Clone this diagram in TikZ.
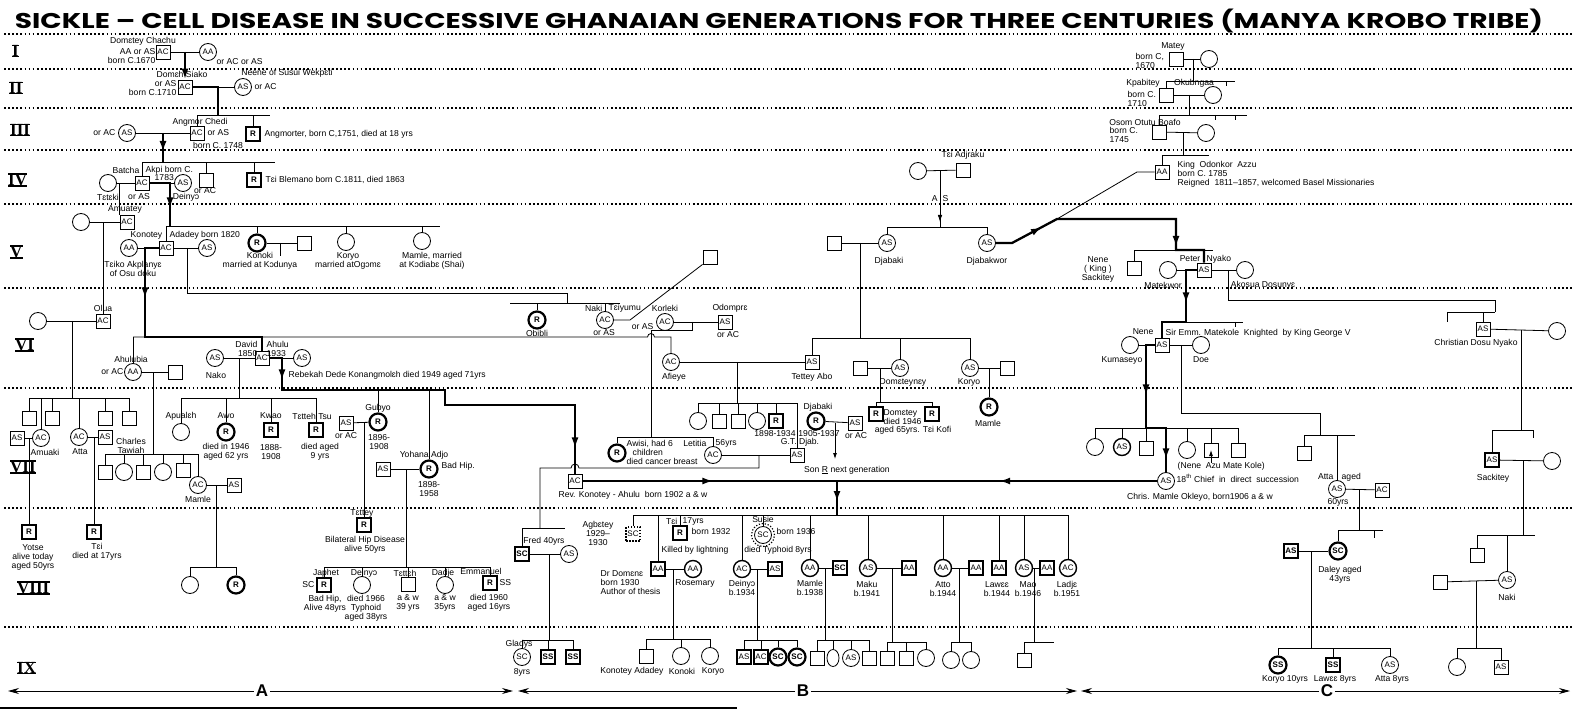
\documentclass[tikz,border=0pt]{standalone}
\usepackage{fontspec}
\setmainfont{Liberation Sans}
\newfontfamily\numfont{Liberation Serif}
\newfontfamily\titlefont{Poppins}
\usepackage{graphicx}
\usetikzlibrary{arrows.meta,calc,decorations.markings,positioning,shapes.geometric}

\newcommand{\lbl}{\fontsize{8.6}{9}\selectfont}
\newcommand{\sym}{\fontsize{8}{8}\selectfont}
\newcommand{\genfont}{\fontsize{17}{17}\selectfont\numfont\bfseries}

\tikzset{%
	male/.style     = {draw, rectangle, minimum size=14pt, inner sep=0pt, font=\sym, line width=0.8pt},
	female/.style   = {draw, circle, minimum size=17pt, inner sep=0pt, font=\sym, line width=0.8pt},
	aff/.style      = {line width=2.2pt, font=\sym\bfseries}, % affected
	heavy/.style    = {line width=1.4pt},
	agb/.style      = {dash pattern=on 1.5pt off 1.5pt, line width=1.3pt},
	lens/.style     = {draw, ellipse, minimum width=12pt, minimum height=17pt, inner sep=0pt, line width=0.8pt},
	txt/.style      = {inner sep=0.5pt, font=\lbl, align=center},
	gen/.style      = {inner sep=0pt, anchor=west, font=\genfont},
	genline/.style  = {line width=1.7pt, dash pattern=on 1.7pt off 2.4pt},
	link/.style     = {line width=0.8pt},
	lineage/.style  = {line width=2.3pt},
	arr/.style      = {postaction={decorate, decoration={markings, mark=at position #1 with {\arrow{Latex[length=11pt,width=7pt]}}}}},
	arrthin/.style  = {postaction={decorate, decoration={markings, mark=at position #1 with {\arrow{Latex[length=7pt,width=4.5pt]}}}}},
	smallarrow/.style = {-{Latex[length=6pt,width=4pt]}},
	secarrow/.style = {-{Stealth[length=11pt,width=6pt]}},
	sec/.style      = {inner sep=1.5pt, font=\fontsize{17}{17}\selectfont\bfseries},
}

\begin{document}
\begin{tikzpicture}[x=1pt,y=-1pt]
	\useasboundingbox (0,0) rectangle (1572,711);

	% generation rules and title
	\foreach \y in {34,69,108,150,204,288,388,508,627}
		\draw[genline] (4,\y) -- (1572,\y);
	\node[anchor=base, inner sep=0pt] (ttl) at (779,29) {\resizebox{1528pt}{19.5pt}{\titlefont\bfseries SICKLE – CELL DISEASE IN SUCCESSIVE GHANAIAN GENERATIONS FOR THREE CENTURIES (MANYA KROBO TRIBE)}};

	\node[gen] (gI) at (12,51) {I};
	\node[gen] (gII) at (9,88) {II};
	\node[gen] (gIII) at (10,130) {III};
	\node[gen] (gIV) at (8,180) {IV};
	\node[gen] (gV) at (10,252) {V};
	\node[gen] (gVI) at (15,345) {VI};
	\node[gen] (gVII) at (10,467) {VII};
	\node[gen] (gVIII) at (17,588) {VIII};
	\node[gen] (gIX) at (17,668) {IX};
	\foreach \g in {gI,gII,gIII,gIV,gV,gVI,gVII,gVIII,gIX}
		\draw[line width=1.3pt] (\g.north west) -- (\g.north east) (\g.south west) -- (\g.south east);

	% ===== A : generations I - V
	\node[male] (chachu) at (163,52) {AC};
	\node[female] (chachuW) at (208,52) {AA};
	\node[txt] (lChachu) at (143,41) {Domɛtey Chachu};
	\node[txt, anchor=east, align=right] (lChachu2) at (156,56) {AA or AS\\born C.1670};
	\node[txt, anchor=west] (lChachuW) at (216,62) {or AC or AS};
	\coordinate (mI) at (185,52);

	\node[male] (siako) at (185,87) {AC};
	\node[female] (neene) at (243,87) {AS};
	\node[txt] (lSiako) at (182,74) {Domɛh Siako};
	\node[txt, anchor=east, align=right] (lSiako2) at (177,88) {or AS\\born C.1710};
	\node[txt] (lNeene) at (287,73) {Neene of Susui Wekpɛti};
	\node[txt, anchor=west] (lNeene2) at (254,87) {or AC};
	\coordinate (mII) at (218,87);
	\coordinate (sIII) at (218,115);
	\coordinate (sIIIr) at (270,115);

	\node[male] (angmor) at (197,133) {AC};
	\node[female] (angmorW) at (127,133) {AS};
	\node[male, aff] (angmorter) at (253,134) {R};
	\node[txt] (lAngmor) at (200,122) {Angmor Chedi};
	\node[txt, anchor=west] (lAngmor2) at (207,133) {or AS};
	\node[txt] (lAngmor3) at (218,145) {born C. 1748};
	\node[txt, anchor=east] (lAngmorW) at (116,133) {or AC};
	\node[txt, anchor=west] (lAngmorter) at (264,134) {Angmorter, born C,1751, died at 18 yrs};
	\coordinate (mIII) at (163,133);
	\coordinate (sIV) at (163,162);
	\coordinate (sIVr) at (275,162);

	\node[male] (akpi) at (142,183) {AC};
	\node[female] (teteki) at (108,183) {};
	\node[female] (deinyo) at (183,183) {AS};
	\node[male] (orAC) at (206,180) {};
	\node[male, aff] (blemano) at (254,180) {R};
	\node[txt, anchor=east] (lBatcha) at (140,170) {Batcha};
	\node[txt, anchor=west] (lAkpi) at (145,170) {Akpi born C.};
	\node[txt, anchor=west] (lAkpi2) at (154,178) {1783};
	\node[txt] (lTeteki) at (108,197) {Tɛtɛki};
	\node[txt] (lAkpi3) at (139,197) {or AS};
	\node[txt] (lDeinyo) at (186,197) {Deinyɔ};
	\node[txt] (lOrAC) at (205,191) {or AC};
	\node[txt, anchor=west] (lBlemano) at (265,180) {Tɛi Blemano born C.1811, died 1863};
	\coordinate (mIVa) at (170,183);
	\coordinate (sV) at (170,226);
	\coordinate (sVr) at (440,226);

	\node[female] (amuateyW) at (81,222) {};
	\node[male] (amuatey) at (127,222) {AC};
	\node[txt] (lAmuatey) at (125,209) {Amuatey};
	\node[male] (konotey) at (166,248) {AC};
	\node[female] (tseiko) at (129,248) {AA};
	\node[female] (konoteyW) at (207,248) {AS};
	\node[txt, anchor=east] (lKonotey) at (163,235) {Konotey};
	\node[txt, anchor=west] (lKonotey2) at (169,235) {Adadey born 1820};
	\node[txt] (lTseiko) at (133,269) {Tɛiko Akplanyɛ\\of Osu doku};
	\node[female, aff] (konoki) at (257,243) {R};
	\node[male] (konokiH) at (304,243) {};
	\node[txt] (lKonoki) at (260,261) {Konoki\\married at Kɔdunya};
	\node[female] (koryoV) at (346,242) {};
	\node[txt] (lKoryoV) at (348,261) {Koryo\\married atOgɔmɛ};
	\node[female] (mamleV) at (422,241) {};
	\node[txt] (lMamleV) at (432,261) {Mamle, married\\at Kɔdiabɛ (Shai)};
	\coordinate (mV) at (145,248);
	\coordinate (mV2) at (187,248);
	\coordinate (kV2) at (567,293);
	\coordinate (sVIb) at (567,303);
	\coordinate (sVIbl) at (510,303);
	\coordinate (sVIbr) at (620,303);

	% ===== A : generations VI - VIII
	\node[female] (oluaW) at (38,321) {};
	\node[male] (olua) at (103,321) {AC};
	\node[txt] (lOlua) at (103,308) {Olua};
	\coordinate (mOlua) at (72,321);
	\coordinate (sVIIa) at (72,398);
	\node[female] (ahulubia) at (133,372) {AA};
	\node[male] (ahulubiaH) at (175,372) {};
	\node[txt] (lAhulubia) at (131,359) {Ahulubia};
	\node[txt, anchor=east] (lAhulubia2) at (124,372) {or AC};
	\coordinate (mAhb) at (153,372);
	\coordinate (sVIIb2) at (153,454);
	\node[male] (ahulu) at (262,358) {AC};
	\node[female] (nako) at (215,358) {AS};
	\node[female] (rebekah) at (302,358) {AS};
	\node[txt, anchor=east, align=right] (lDavid) at (258,349) {David\\1850};
	\node[txt, anchor=west, align=left] (lAhulu) at (266,349) {Ahulu\\1933};
	\node[txt] (lNako) at (216,375) {Nako};
	\node[txt, anchor=west] (lRebekah) at (288,375) {Rebekah Dede Konangmolɛh died 1949 aged 71yrs};
	\coordinate (sVI) at (145,337);
	\coordinate (mNako) at (239,358);
	\coordinate (sVIIn) at (239,398);
	\coordinate (kAh1) at (282,358);
	\coordinate (kAh2) at (282,390);
	\coordinate (kAh3) at (445,390);
	\coordinate (kAh4) at (445,405);
	\coordinate (kAh5) at (575,405);
	\coordinate (sVIIc) at (378,390);

	\node[male] (kA1) at (29,418) {};
	\node[female] (amuaki) at (41,438) {AC};
	\node[male] (kA2) at (52,418) {};
	\node[female] (atta7) at (79,437) {AC};
	\node[male] (kA3) at (105,418) {};
	\node[male] (kA4) at (129,418) {};
	\node[txt] (lAmuaki) at (45,452) {Amuaki};
	\node[txt] (lAtta7) at (80,452) {Atta};
	\node[male] (amuakiH) at (17,438) {AS};
	\node[male] (attaH7) at (105,437) {AS};
	\node[male, aff] (yotse) at (29,532) {R};
	\node[txt] (lYotse) at (33,557) {Yotse\\alive today\\aged 50yrs};
	\node[male, aff] (teiA) at (94,532) {R};
	\node[txt] (lTeiA) at (97,552) {Tɛi\\died at 17yrs};

	\node[male] (ah1) at (105,472) {};
	\node[female] (ah2) at (124,472) {};
	\node[male] (ah3) at (143,472) {};
	\node[female] (ah4) at (163,472) {};
	\node[male] (ah5) at (183,470) {};
	\node[female] (mamleA) at (198,485) {AC};
	\node[txt] (lCharles) at (131,446) {Charles\\Tawiah};
	\node[txt] (lMamleA) at (198,499) {Mamle};
	\node[male] (mamleAH) at (234,485) {AS};
	\coordinate (mMamleA) at (216,485);
	\coordinate (sVIIIa) at (216,567);
	\node[female] (ma1) at (190,585) {};
	\node[female, aff] (ma2) at (236,585) {R};

	\node[female] (apualeh) at (181,432) {};
	\node[female, aff] (awo) at (226,432) {R};
	\node[male, aff] (kwao) at (271,430) {R};
	\node[male, aff] (tsu) at (316,430) {R};
	\node[txt] (lApualeh) at (181,416) {Apualɛh};
	\node[txt] (lAwo) at (226,416) {Awo};
	\node[txt] (lAwo2) at (226,452) {died in 1946\\aged 62 yrs};
	\node[txt] (lKwao) at (271,416) {Kwao};
	\node[txt] (lKwao2) at (271,452) {1888-\\1908};
	\node[txt] (lTsu) at (312,416) {Tɛtteh Tsu};
	\node[txt] (lTsu2) at (320,452) {died aged\\9 yrs};

	\node[female, aff] (gubyo) at (378,422) {R};
	\node[txt] (lGubyo) at (378,408) {Gubyo};
	\node[txt] (lGubyo2) at (379,442) {1896-\\1908};
	\node[male] (gubyoH) at (346,423) {AS};
	\node[txt] (lGubyoH) at (346,436) {or AC};
	\node[male, aff] (tettey) at (364,525) {R};
	\node[txt] (lTettey) at (362,513) {Tɛttey};
	\node[txt] (lTettey2) at (365,545) {Bilateral Hip Disease\\alive 50yrs};

	\node[female, aff] (yohana) at (429,469) {R};
	\node[txt] (lYohana) at (424,455) {Yohana Adjo};
	\node[txt, anchor=west] (lYohana2) at (441,466) {Bad Hip.};
	\node[txt] (lYohana3) at (429,489) {1898-\\1958};
	\node[male] (yohanaH) at (383,469) {AS};
	\coordinate (mYoh) at (406,469);
	\coordinate (sVIIIy) at (406,567);

	\node[male, aff] (jaahet) at (324,585) {R};
	\node[female] (deinyoB) at (362,585) {};
	\node[male] (tetteh) at (408,584) {};
	\node[female] (dadje) at (445,585) {};
	\node[male, aff] (emmanuel) at (490,583) {R};
	\node[txt] (lJaahet) at (326,573) {Japhet};
	\node[txt, anchor=east] (lJaahet2) at (315,585) {SC};
	\node[txt] (lJaahet3) at (325,604) {Bad Hip,\\Alive 48yrs};
	\node[txt] (lDeinyoB) at (364,573) {Deinyɔ};
	\node[txt] (lDeinyoB2) at (366,608) {died 1966\\Typhoid\\aged 38yrs};
	\node[txt] (lTetteh) at (405,573) {Tɛttɛh};
	\node[txt] (lTetteh2) at (408,603) {a \& w\\39 yrs};
	\node[txt] (lDadje) at (443,573) {Dadje};
	\node[txt] (lDadje2) at (445,603) {a \& w\\35yrs};
	\node[txt] (lEmmanuel) at (481,571) {Emmanuel};
	\node[txt, anchor=west] (lEmmanuel2) at (499,583) {SS};
	\node[txt] (lEmmanuel3) at (489,603) {died 1960\\aged 16yrs};

	% ===== B : generations IV - VII
	\node[female, aff] (obibli) at (537,320) {R};
	\node[txt] (lObibli) at (537,333) {Obibli};
	\node[female] (naki) at (605,320) {AC};
	\node[txt, anchor=east] (lNaki) at (603,308) {Naki};
	\node[txt, anchor=west] (lNaki2) at (608,308) {Tɛiyumu};
	\node[txt] (lNaki3) at (604,333) {or AS};
	\node[male] (nakiH) at (710,257) {};
	\coordinate (kNaki) at (630,320);
	\node[female] (korleki) at (665,322) {AC};
	\node[txt] (lKorleki) at (665,308) {Korleki};
	\node[txt, anchor=east] (lKorleki2) at (654,327) {or AS};
	\node[male] (odompre) at (725,322) {AS};
	\node[txt] (lOdompre) at (730,308) {Odomprɛ};
	\node[txt] (lOdompre2) at (728,335) {or AC};
	\coordinate (mKor) at (692,322);
	\coordinate (kKor1) at (692,330);
	\coordinate (kKor2) at (651,330);
	\node[female] (afieye) at (671,362) {AC};
	\node[txt] (lAfieye) at (674,377) {Afieye};
	\node[male] (tetteyAbo) at (812,362) {AS};
	\node[txt] (lTetteyAbo) at (812,377) {Tettey Abo};
	\coordinate (mVI) at (737,362);
	\coordinate (sVIId) at (737,403);

	\node[female] (af1) at (698,421) {};
	\node[male] (af2) at (719,421) {};
	\node[male] (af3) at (738,421) {};
	\node[female] (af4) at (757,421) {};
	\node[male, aff] (af5) at (776,421) {R};
	\node[male] (gtdjab) at (797,455) {AS};
	\node[txt] (lAf5) at (775,434) {1898-1934};
	\node[txt] (lGtdjab) at (800,442) {G.T. Djab.};
	\node[female, aff] (djabakiR) at (816,421) {R};
	\node[txt] (lDjabakiR) at (818,407) {Djabaki};
	\node[txt] (lDjabakiR2) at (819,434) {1905-1937};
	\node[male] (djabakiH) at (855,423) {AS};
	\node[txt] (lDjabakiH) at (856,436) {or AC};
	\coordinate (mDj) at (835,423);
	\coordinate (son) at (835,459);
	\node[txt] (lSon) at (847,470) {Son \underline{R} next generation};

	\node[female] (adjraku) at (918,171) {};
	\node[male] (adjrakuH) at (963,170) {};
	\node[txt] (lAdjraku) at (963,155) {Tɛi Adjraku};
	\node[txt] (lAS) at (940,199) {A\hspace{5pt}S};
	\coordinate (mAdj) at (940,171);
	\coordinate (sVc) at (940,227);
	\node[male] (djabakiVH) at (834,243) {};
	\node[female] (djabakiV) at (887,243) {AS};
	\node[txt] (lDjabakiV) at (889,261) {Djabaki};
	\node[female] (djabakwor) at (987,243) {AS};
	\node[txt] (lDjabakwor) at (987,261) {Djabakwor};
	\coordinate (mDjV) at (860,243);
	\coordinate (sVIc) at (860,338);
	\node[female] (domteyneey) at (900,368) {AS};
	\node[txt] (lDomteyneey) at (903,382) {Domɛteynɛy};
	\node[male] (domH) at (860,368) {};
	\coordinate (mDom) at (880,368);
	\coordinate (sVIIe) at (880,402);
	\node[male, aff] (domtey) at (876,414) {R};
	\node[male, aff] (teiKofi) at (932,414) {R};
	\node[txt, anchor=west, align=left] (lDomtey) at (883,417) {Domɛtey\\died 1946};
	\node[txt] (lDomtey2) at (913,430) {aged 65yrs. Tɛi Kofi};
	\node[female] (koryoB) at (970,368) {AS};
	\node[txt] (lKoryoB) at (969,382) {Koryo};
	\node[male] (koryoBH) at (1007,368) {};
	\node[female, aff] (mamleR) at (989,407) {R};
	\node[txt] (lMamleR) at (988,423) {Mamle};
	\coordinate (mKoryo) at (989,368);

	\node[male] (revk) at (575,481) {AC};
	\node[txt] (lRevk) at (633,495) {Rev. Konotey - Ahulu\ \ born 1902 a \& w};
	\node[female, aff] (awisi) at (617,453) {R};
	\node[txt, anchor=west, align=left] (lAwisi) at (626,452) {Awisi, had 6\\\hspace{6pt}children\\died cancer breast};
	\node[female] (letitia) at (713,455) {AC};
	\node[txt, anchor=east] (lLetitia) at (707,443) {Letitia};
	\node[txt, anchor=west] (lLetitia2) at (715,443) {56yrs};
	\coordinate (sVIIl) at (651,437);
	\coordinate (mLet) at (759,455);
	\coordinate (kLet1) at (759,468);
	\coordinate (kLet2) at (579,468);
	\coordinate (kLet3) at (540,468);
	\coordinate (sVIIIc) at (540,528);
	\coordinate (sVIIIcr) at (565,528);
	\coordinate (mRev) at (837,481);
	\coordinate (sVIIIb) at (837,515);

	% ===== B : generations VIII - IX
	\node[male, aff] (fred) at (522,554) {SC};
	\node[txt] (lFred) at (544,541) {Fred 40yrs};
	\node[female] (fredW) at (569,554) {AS};
	\coordinate (mFred) at (549,554);
	\coordinate (sIXc) at (549,640);
	\node[female] (gladys) at (522,657) {SC};
	\node[male, aff] (ss1) at (548,657) {SS};
	\node[male, aff] (ss2) at (573,657) {SS};
	\node[txt] (lGladys) at (519,644) {Gladys};
	\node[txt] (lGladys2) at (522,672) {8yrs};

	\node[male, agb] (agbetey) at (633,534) {SC};
	\node[txt] (lAgbetey) at (598,533) {Agbɛtey\\1929–\\1930};
	\node[male, aff] (tei17) at (680,533) {R};
	\node[txt, anchor=east] (lTei17) at (678,521) {Tɛi};
	\node[txt, anchor=west] (lTei17b) at (682,521) {17yrs};
	\node[txt, anchor=west] (lTei17c) at (691,531) {born 1932};
	\node[txt] (lTei17d) at (695,550) {Killed by lightning};
	\node[male, heavy] (domene) at (658,569) {AA};
	\node[txt, anchor=west, align=left] (lDomene) at (600,583) {Dr Domɛnɛ\\born 1930\\Author of thesis};
	\node[female, heavy] (rosemary) at (693,569) {AA};
	\node[txt] (lRosemary) at (695,583) {Rosemary};
	\coordinate (mDom2) at (673,569);
	\coordinate (sIXd) at (673,639);
	\node[male] (dd1) at (646,656) {};
	\node[female] (dd2) at (681,656) {};
	\node[female] (dd3) at (710,656) {};
	\node[txt] (lDd1) at (632,671) {Konotey Adadey};
	\node[txt] (lDd2) at (682,671) {Konoki};
	\node[txt] (lDd3) at (713,671) {Koryo};

	\node[female, heavy] (deinyoC) at (742,569) {AC};
	\node[txt] (lDeinyoC) at (742,588) {Deinyɔ\\b.1934};
	\node[male, heavy] (deinyoCH) at (775,569) {AS};
	\coordinate (mDeiC) at (757,569);
	\coordinate (sIXe) at (757,640);
	\node[male, heavy] (de1) at (744,657) {AS};
	\node[male, heavy] (de2) at (761,657) {AC};
	\node[female, aff] (de3) at (778,657) {SC};
	\node[female, aff] (de4) at (797,657) {SC};
	\node[female] (susie) at (763,535) {SC};
	\draw[line width=1.2pt, dash pattern=on 1.2pt off 1.8pt] (susie.center) circle[radius=11.5pt];
	\node[txt] (lSusie) at (763,519) {Susie};
	\node[txt, anchor=west] (lSusie2) at (776,531) {born 1936};
	\node[txt] (lSusie3) at (778,550) {died Typhoid 8yrs};

	\node[female, heavy] (mamleB) at (810,568) {AA};
	\node[txt] (lMamleB) at (810,588) {Mamle\\b.1938};
	\node[male, aff] (mamleBH) at (840,568) {SC};
	\coordinate (mMamB) at (825,568);
	\coordinate (sIXg) at (825,640);
	\node[male] (mb1) at (817,658) {};
	\node[lens] (mb2) at (833,658) {};
	\node[female] (mb3) at (851,658) {AS};
	\node[male] (mb4) at (869,658) {};
	\node[female, heavy] (maku) at (868,568) {AS};
	\node[txt] (lMaku) at (867,589) {Maku\\b.1941};
	\node[male, heavy] (makuH) at (909,568) {AA};
	\coordinate (mMaku) at (892,568);
	\coordinate (sIXm) at (892,642);
	\node[male] (mk1) at (887,658) {};
	\node[male] (mk2) at (906,658) {};
	\node[female] (mk3) at (926,658) {};
	\node[female, heavy] (atto) at (943,568) {AA};
	\node[txt] (lAtto) at (943,589) {Atto\\b.1944};
	\node[male, heavy] (attoH) at (976,568) {AA};
	\coordinate (mAtto) at (959,568);
	\coordinate (sIXt) at (959,642);
	\node[female] (at1) at (951,660) {};
	\node[female] (at2) at (971,660) {};
	\node[male, heavy] (lawee) at (999,568) {AA};
	\node[txt] (lLawee) at (997,589) {Lawɛɛ\\b.1944};
	\node[female, heavy] (mao) at (1024,568) {AS};
	\node[txt] (lMao) at (1028,589) {Mao\\b.1946};
	\node[male, heavy] (maoH) at (1047,568) {AA};
	\coordinate (mMao) at (1034,568);
	\coordinate (sIXo) at (1034,642);
	\coordinate (sIXor) at (1054,642);
	\node[male] (mo1) at (1024,660) {};
	\node[female, heavy] (ladje) at (1068,568) {AC};
	\node[txt] (lLadje) at (1067,589) {Ladjɛ\\b.1951};

	% ===== C : generations I - IV
	\node[male] (matey) at (1176,59) {};
	\node[female] (mateyW) at (1209,59) {};
	\node[txt] (lMatey) at (1173,46) {Matey};
	\node[txt, anchor=west, align=left] (lMatey2) at (1135,61) {born C,\\1670};
	\coordinate (mMatey) at (1193,59);
	\coordinate (sKp) at (1193,81);
	\coordinate (sKpr) at (1235,81);
	\node[male] (kpabitey) at (1166,95) {};
	\node[female] (kpabiteyW) at (1213,95) {};
	\node[txt] (lKpabitey) at (1143,83) {Kpabitey};
	\node[txt] (lOkub) at (1194,83) {Okubngaa};
	\node[txt, anchor=west, align=left] (lKpabitey2) at (1127,99) {born C.\\1710};
	\coordinate (mKp) at (1189,95);
	\coordinate (sOs) at (1189,115);
	\coordinate (sOsr) at (1247,115);
	\node[male] (osom) at (1159,132) {};
	\node[female] (osomW) at (1206,133) {};
	\node[txt] (lOsom) at (1145,122) {Osom Otutu Boafo};
	\node[txt, anchor=west, align=left] (lOsom2) at (1109,135) {born C.\\1745};
	\coordinate (mOs) at (1183,133);
	\coordinate (sKing) at (1183,155);
	\coordinate (sKingr) at (1209,155);
	\node[male] (king) at (1162,172) {AA};
	\node[txt, anchor=west, align=left] (lKing) at (1177,174) {King\ \ Odonkor\ \ Azzu\\born C. 1785\\Reigned\ \ 1811–1857, welcomed Basel Missionaries};
	\coordinate (kinkA) at (1137,172);
	\coordinate (kinkB) at (1057,219);
	\coordinate (kinkC) at (1012,243);
	\coordinate (kPe1) at (1176,219);
	\coordinate (sVd) at (1176,250);
	\coordinate (kPe2) at (1204,250);
	\coordinate (sVdr) at (1213,250);

	% ===== C : generations V - IX
	\node[male] (sackiteyV) at (1134,268) {};
	\node[txt] (lSackiteyV) at (1098,269) {Nene\\( King )\\Sackitey};
	\node[female] (matekwor) at (1168,270) {};
	\node[txt] (lMatekwor) at (1163,285) {Matekwor};
	\node[male] (peter) at (1204,270) {AS};
	\node[txt, anchor=east] (lPeter) at (1201,259) {Peter};
	\node[txt, anchor=west] (lPeter2) at (1206,259) {Nyako};
	\node[female] (akosua) at (1245,270) {};
	\node[txt] (lAkosua) at (1263,285) {Akosua Dosunyɛ};
	\coordinate (kPe3) at (1186,270);
	\coordinate (kPe4) at (1186,322);
	\coordinate (sVId) at (1162,322);
	\coordinate (sVIdr) at (1243,322);
	\coordinate (stubVI) at (1235,322);

	\node[male] (siremm) at (1162,345) {AS};
	\node[txt, anchor=east] (lNene) at (1154,332) {Nene};
	\node[txt, anchor=west] (lSirEmm) at (1165,333) {Sir Emm. Matekole\ \ Knighted\ \ by King George V};
	\node[female] (kumaseyo) at (1130,345) {};
	\node[txt] (lKumaseyo) at (1122,360) {Kumaseyo};
	\node[female] (doe) at (1201,345) {};
	\node[txt] (lDoe) at (1201,360) {Doe};
	\coordinate (kSir1) at (1146,345);
	\coordinate (kSir2) at (1146,428);
	\coordinate (sVIIg) at (1166,428);

	\node[female] (sg1) at (1095,447) {};
	\node[female, heavy] (sg2) at (1122,447) {AS};
	\node[male] (sg3) at (1146,448) {};
	\node[female] (chris) at (1166,481) {AS};
	\node[female] (sg4) at (1187,450) {};
	\node[male] (sg5) at (1211,450) {};
	\node[male] (sg6) at (1238,450) {};
	\node[txt, anchor=west] (lSg5) at (1177,466) {(Nene\ \ Azu Mate Kole)};
	\node[txt, anchor=west] (lSg5b) at (1176,478) {18\textsuperscript{th} Chief\ \ in\ \ direct\ \ succession};
	\node[txt] (lChris) at (1200,497) {Chris. Mamle Okleyo, born1906 a \& w};

	\coordinate (mDoe) at (1181,345);
	\coordinate (kDoe1) at (1181,413);
	\coordinate (kDoe2) at (1320,413);
	\coordinate (sVIIh) at (1320,435);
	\coordinate (sVIIhr) at (1355,435);
	\node[male] (dh1) at (1304,453) {};
	\node[female] (atta) at (1337,489) {AS};
	\node[txt, anchor=east] (lAtta) at (1334,477) {Atta};
	\node[txt, anchor=west] (lAtta2) at (1341,477) {aged};
	\node[txt] (lAtta3) at (1338,502) {60yrs};
	\node[male] (attaH) at (1382,490) {AC};
	\coordinate (mAtta) at (1359,489);
	\coordinate (sVIIIh) at (1359,530);
	\coordinate (sVIIIhr) at (1383,530);
	\coordinate (stubVIIIh) at (1374,530);
	\node[female, aff] (daley) at (1338,551) {SC};
	\node[txt] (lDaley) at (1340,575) {Daley aged\\43yrs};
	\node[male, aff] (daleyH) at (1291,551) {AS};
	\coordinate (mDaley) at (1311,551);
	\coordinate (sIXh) at (1311,648);
	\node[female, aff] (koryoC) at (1278,665) {SS};
	\node[male, aff] (laweeC) at (1333,665) {SS};
	\node[female] (attaC) at (1390,665) {AS};
	\node[txt] (lKoryoC) at (1285,679) {Koryo 10yrs};
	\node[txt] (lLaweeC) at (1335,679) {Lawɛɛ 8yrs};
	\node[txt] (lAttaC) at (1392,679) {Atta 8yrs};

	\coordinate (mPeter) at (1228,270);
	\coordinate (kChr1) at (1228,300);
	\coordinate (kChr2) at (1495,300);
	\coordinate (sVIe) at (1495,312);
	\coordinate (sVIel) at (1447,312);
	\node[male] (christian) at (1483,329) {AS};
	\node[txt] (lChristian) at (1476,343) {Christian Dosu Nyako};
	\node[female] (christianW) at (1557,331) {};
	\coordinate (mChr) at (1521,330);
	\coordinate (sVIIf) at (1521,430);
	\coordinate (sVIIfr) at (1533,430);
	\node[male, heavy] (sackiteyC) at (1492,460) {AS};
	\node[txt] (lSackiteyC) at (1493,478) {Sackitey};
	\node[female] (sackiteyW) at (1552,461) {};
	\coordinate (mSac) at (1523,460);
	\coordinate (sVIIIf) at (1523,535);
	\coordinate (sVIIIfr) at (1535,535);
	\node[male] (sf1) at (1477,555) {};
	\node[female] (naki8) at (1507,580) {AS};
	\node[txt] (lNaki8) at (1507,597) {Naki};
	\node[male] (naki8H) at (1440,582) {};
	\coordinate (mNaki8) at (1476,581);
	\coordinate (sIXf) at (1476,648);
	\node[female] (nf1) at (1457,667) {};
	\node[male] (nf2) at (1501,667) {AS};

	% section markers
	\node[sec] (secA) at (262,691) {A};
	\node[sec] (secB) at (803,691) {B};
	\node[sec] (secC) at (1327,691) {C};
	\coordinate (endA) at (8,691);
	\coordinate (endAB) at (513,691);
	\coordinate (endBA) at (518,691);
	\coordinate (endBC) at (1077,691);
	\coordinate (endCB) at (1081,691);
	\coordinate (endC) at (1570,691);

	% ----- connectors, A
	\draw[link] (chachu) -- (chachuW);
	\draw[lineage, -{Latex[length=11pt,width=7pt]}] (mI) -- (siako);
	\draw[link] (siako) -- (neene);
	\draw[lineage] (siako) -- (mII) -- (sIII);
	\draw[link] (angmor) |- (sIIIr);
	\draw[link] (angmorter) -- (angmorter |- sIII);
	\draw[link] (angmorW) -- (angmor);
	\draw[lineage, arr=19pt] (mIII) -- (sIV);
	\draw[link] (akpi) |- (sIVr);
	\draw[link] (orAC) -- (orAC |- sIV);
	\draw[link] (blemano) -- (blemano |- sIV);
	\draw[link] (teteki) -- (akpi);
	\draw[link] (akpi) -- (deinyo);
	\draw[lineage, arr=46pt] (akpi) -- (mIVa) -- (sV);
	\draw[link] (amuatey.north west) -- (amuatey.north west |- akpi);
	\draw[link] (amuateyW) -- (amuatey);
	\draw[link] (olua) -- (olua |- amuatey);
	\draw[link] (konotey) -- (konotey |- sV);
	\draw[link] (konotey |- sV) -- (sVr);
	\foreach \p in {konoki,koryoV,mamleV}
		\draw[link] (\p) -- (\p |- sV);
	\draw[link] (tseiko) -- (konotey);
	\draw[link] (konotey) -- (konoteyW);
	\draw[link] (konoki) -- (konokiH);
	\draw[link] ($(konoki)!0.5!(konokiH)$) -- ++(0,13);
	\draw[lineage, arr=64pt] (konotey) -- (mV) -- (sVI) -- (sVI -| ahulu) -- (ahulu);
	\draw[link] (mV2) |- (kV2) -- (sVIb);
	\draw[link] (sVIbl) -- (sVIbr);
	\foreach \p in {obibli,naki}
		\draw[link] (\p) -- (\p |- sVIb);

	\draw[link] (oluaW) -- (olua);
	\draw[link] (mOlua) -- (sVIIa);
	\draw[link] (kA1 |- sVIIa) -- (kA4 |- sVIIa);
	\foreach \p in {kA1,amuaki,kA2,atta7,kA3,kA4}
		\draw[link] (\p) -- (\p |- sVIIa);
	\draw[link] (amuakiH) -- (amuaki);
	\draw[link] (yotse |- amuaki) -- (yotse);
	\draw[link] (atta7) -- (attaH7);
	\draw[link] (teiA |- atta7) -- (teiA);

	\draw[link] (ahulubia) -- (ahulubia |- sVI);
	\draw[link] (ahulubia |- sVI) -- (647.5,337) arc[start angle=180, end angle=0, radius=3.5pt] -- (afieye |- sVI) -- (afieye);
	\draw[link] (ahulubia) -- (ahulubiaH);
	\draw[link] (mAhb) -- (sVIIb2);
	\draw[link] (ah1 |- sVIIb2) -- (mamleA |- sVIIb2);
	\foreach \p in {ah1,ah2,ah3,ah4,ah5,mamleA}
		\draw[link] (\p) -- (\p |- sVIIb2);
	\draw[link] (mamleA) -- (mamleAH);
	\draw[link] (mMamleA) -- (sVIIIa);
	\draw[link] (ma1 |- sVIIIa) -- (ma2 |- sVIIIa);
	\foreach \p in {ma1,ma2}
		\draw[link] (\p) -- (\p |- sVIIIa);

	\draw[link] (nako) -- (ahulu);
	\draw[link] (ahulu) -- (rebekah);
	\draw[link] (mNako) -- (sVIIn);
	\draw[link] (apualeh |- sVIIn) -- (tsu |- sVIIn);
	\foreach \p in {apualeh,awo,kwao,tsu}
		\draw[link] (\p) -- (\p |- sVIIn);
	\draw[lineage, arr=35pt, arr=396pt] (ahulu) -- (kAh1) -- (kAh2) -- (kAh3) -- (kAh4) -- (kAh5) -- (revk);
	\foreach \p in {gubyo,yohana}
		\draw[link] (\p) -- (\p |- sVIIc);
	\draw[link] (gubyoH) -- (gubyo);
	\draw[link] (tettey |- gubyo) -- (tettey);
	\draw[link] (yohanaH) -- (yohana);
	\draw[link] (mYoh) -- (sVIIIy);
	\draw[link] (jaahet |- sVIIIy) -- (emmanuel |- sVIIIy);
	\foreach \p in {jaahet,deinyoB,tetteh,dadje,emmanuel}
		\draw[link] (\p) -- (\p |- sVIIIy);

	% ----- connectors, B
	\draw[link] (naki) -- (kNaki) -- (nakiH.south west);
	\draw[link] (korleki) -- (odompre);
	\draw[link] (mKor) -- (kKor1) -- (kKor2) -- (sVIIl);
	\draw[link] (afieye) -- (tetteyAbo);
	\draw[link] (mVI) -- (sVIId);
	\draw[link] (af1 |- sVIId) -- (gtdjab |- sVIId);
	\foreach \p in {af1,af2,af3,af4,af5,gtdjab}
		\draw[link] (\p) -- (\p |- sVIId);
	\draw[link] (djabakiR) -- (djabakiH);
	\draw[link, smallarrow] (mDj) -- (son);

	\draw[link] (adjraku) -- (adjrakuH);
	\draw[link, arrthin=51pt] (mAdj) -- (sVc);
	\draw[link] (djabakiV |- sVc) -- (djabakwor |- sVc);
	\foreach \p in {djabakiV,djabakwor}
		\draw[link] (\p) -- (\p |- sVc);
	\draw[link] (djabakiVH) -- (djabakiV);
	\draw[link] (mDjV) -- (sVIc);
	\draw[link] (tetteyAbo |- sVIc) -- (koryoB |- sVIc);
	\foreach \p in {tetteyAbo,domteyneey,koryoB}
		\draw[link] (\p) -- (\p |- sVIc);
	\draw[link] (domH) -- (domteyneey);
	\draw[link] (mDom) -- (sVIIe);
	\draw[link] (domtey |- sVIIe) -- (teiKofi |- sVIIe);
	\foreach \p in {domtey,teiKofi}
		\draw[link] (\p) -- (\p |- sVIIe);
	\draw[link] (koryoB) -- (koryoBH);
	\draw[link] (mKoryo) -- (mamleR);

	\draw[link] (awisi) |- (letitia |- sVIIl) -- (letitia);
	\draw[link] (letitia) -- (gtdjab);
	\draw[link] (mLet) -- (kLet1) -- (kLet2) arc[start angle=0, end angle=180, radius=4pt] -- (kLet3) -- (sVIIIc);
	\draw[link] (fred |- sVIIIc) -- (sVIIIcr);
	\draw[link] (fred) -- (fred |- sVIIIc);
	\draw[link] (fred) -- (fredW);
	\draw[link] (mFred) -- (sIXc);
	\draw[link] (gladys |- sIXc) -- (ss2 |- sIXc);
	\foreach \p in {gladys,ss1,ss2}
		\draw[link] (\p) -- (\p |- sIXc);

	\draw[lineage, arr=131pt] (revk) -- (mRev);
	\draw[lineage, arr=158pt] (chris) -- (mRev);
	\draw[lineage, arr=21pt] (mRev) -- (sVIIIb);
	\draw[link] (agbetey |- sVIIIb) -- (ladje |- sVIIIb);
	\foreach \p in {agbetey,domene,tei17,deinyoC,susie,mamleB,maku,atto,lawee,mao,ladje}
		\draw[link] (\p) -- (\p |- sVIIIb);
	\draw[link] (domene) -- (rosemary);
	\draw[link] (mDom2) -- (sIXd);
	\draw[link] (dd1 |- sIXd) -- (dd3 |- sIXd);
	\foreach \p in {dd1,dd2,dd3}
		\draw[link] (\p) -- (\p |- sIXd);
	\draw[link] (deinyoC) -- (deinyoCH);
	\draw[link] (mDeiC) -- (sIXe);
	\draw[link] (de1 |- sIXe) -- (de4 |- sIXe);
	\foreach \p in {de1,de2,de3,de4}
		\draw[link] (\p) -- (\p |- sIXe);
	\draw[link] (mamleB) -- (mamleBH);
	\draw[link] (mMamB) -- (sIXg);
	\draw[link] (mb1 |- sIXg) -- (mb4 |- sIXg);
	\foreach \p in {mb1,mb2,mb3,mb4}
		\draw[link] (\p) -- (\p |- sIXg);
	\draw[link] (maku) -- (makuH);
	\draw[link] (mMaku) -- (sIXm);
	\draw[link] (mk1 |- sIXm) -- (mk3 |- sIXm);
	\foreach \p in {mk1,mk2,mk3}
		\draw[link] (\p) -- (\p |- sIXm);
	\draw[link] (atto) -- (attoH);
	\draw[link] (mAtto) -- (sIXt);
	\draw[link] (at1 |- sIXt) -- (at2 |- sIXt);
	\foreach \p in {at1,at2}
		\draw[link] (\p) -- (\p |- sIXt);
	\draw[link] (mao) -- (maoH);
	\draw[link] (mMao) -- (sIXo);
	\draw[link] (mo1 |- sIXo) -- (sIXor);
	\draw[link] (mo1) -- (mo1 |- sIXo);

	% ----- connectors, C
	\draw[link] (matey) -- (mateyW);
	\draw[link] (mMatey) -- (sKp);
	\draw[link] (kpabitey) |- (sKpr);
	\draw[link] (1226,81) -- ++(0,5);
	\draw[link] (kpabitey) -- (kpabiteyW);
	\draw[link] (mKp) -- (sOs);
	\draw[link] (osom) |- (sOsr);
	\draw[link] (1215,115) -- ++(0,5) (1235,115) -- ++(0,5);
	\draw[link] (osom) -- (osomW);
	\draw[link] (mOs) -- (sKing);
	\draw[link] (king) |- (sKingr);
	\draw[link] (king) -- (kinkA) -- (kinkB);
	\draw[lineage, arr=50pt, arr=214pt] (djabakwor) -- (kinkC) -- (kinkB) -- (kPe1) -- (sVd) -- (kPe2) -- (peter);
	\draw[link] (sackiteyV) |- (sVdr);
	\draw[link] (matekwor) -- (peter);
	\draw[link] (peter) -- (akosua);
	\draw[lineage, arr=44pt] (peter) -- (kPe3) -- (kPe4) -- (sVId) -- (siremm);
	\draw[link] (sVId) -- (sVIdr);
	\draw[link] (stubVI) -- ++(0,5);
	\draw[link] (kumaseyo) -- (siremm);
	\draw[link] (siremm) -- (doe);
	\draw[lineage, arr=59pt, arr=143pt] (siremm) -- (kSir1) -- (kSir2) -- (sVIIg) -- (chris);
	\draw[link] (sg1 |- sVIIg) -- (sg6 |- sVIIg);
	\foreach \p in {sg1,sg2,sg3,sg4,sg5,sg6}
		\draw[link] (\p) -- (\p |- sVIIg);
	\draw[link, smallarrow] ([yshift=-13pt]sg5.center) -- (sg5.center);

	\draw[link] (mDoe) -- (kDoe1) -- (kDoe2) -- (sVIIh);
	\draw[link] (dh1 |- sVIIh) -- (sVIIhr);
	\foreach \p in {dh1,atta}
		\draw[link] (\p) -- (\p |- sVIIh);
	\draw[link] (atta) -- (attaH);
	\draw[link] (mAtta) -- (sVIIIh);
	\draw[link] (daley |- sVIIIh) -- (sVIIIhr);
	\draw[link] (stubVIIIh) -- ++(0,8);
	\draw[link] (daley) -- (daley |- sVIIIh);
	\draw[link] (daleyH) -- (daley);
	\draw[link] (mDaley) -- (sIXh);
	\draw[link] (koryoC |- sIXh) -- (attaC |- sIXh);
	\foreach \p in {koryoC,laweeC,attaC}
		\draw[link] (\p) -- (\p |- sIXh);

	\draw[link] (mPeter) -- (kChr1) -- (kChr2) -- (sVIe);
	\draw[link] (sVIel) -- (sVIe);
	\draw[link] (sVIel) -- ++(0,10);
	\draw[link] (christian) -- (christian |- sVIe);
	\draw[link] (christian) -- (christianW);
	\draw[link] (mChr) -- (sVIIf);
	\draw[link] (sackiteyC |- sVIIf) -- (sVIIfr);
	\draw[link] (sVIIfr) -- ++(0,8);
	\draw[link] (sackiteyC) -- (sackiteyC |- sVIIf);
	\draw[link] (sackiteyC) -- (sackiteyW);
	\draw[link] (mSac) -- (sVIIIf);
	\draw[link] (sf1 |- sVIIIf) -- (sVIIIfr);
	\foreach \p in {sf1,naki8}
		\draw[link] (\p) -- (\p |- sVIIIf);
	\draw[link] (naki8H) -- (naki8);
	\draw[link] (mNaki8) -- (sIXf);
	\draw[link] (nf1 |- sIXf) -- (nf2 |- sIXf);
	\foreach \p in {nf1,nf2}
		\draw[link] (\p) -- (\p |- sIXf);

	% section arrows
	\draw[link, secarrow] (secA) -- (endA);
	\draw[link, secarrow] (secA) -- (endAB);
	\draw[link, secarrow] (secB) -- (endBA);
	\draw[link, secarrow] (secB) -- (endBC);
	\draw[link, secarrow] (secC) -- (endCB);
	\draw[link, secarrow] (secC) -- (endC);
	\draw[line width=1.6pt] (0,708) -- (737,708);
\end{tikzpicture}
\end{document}
